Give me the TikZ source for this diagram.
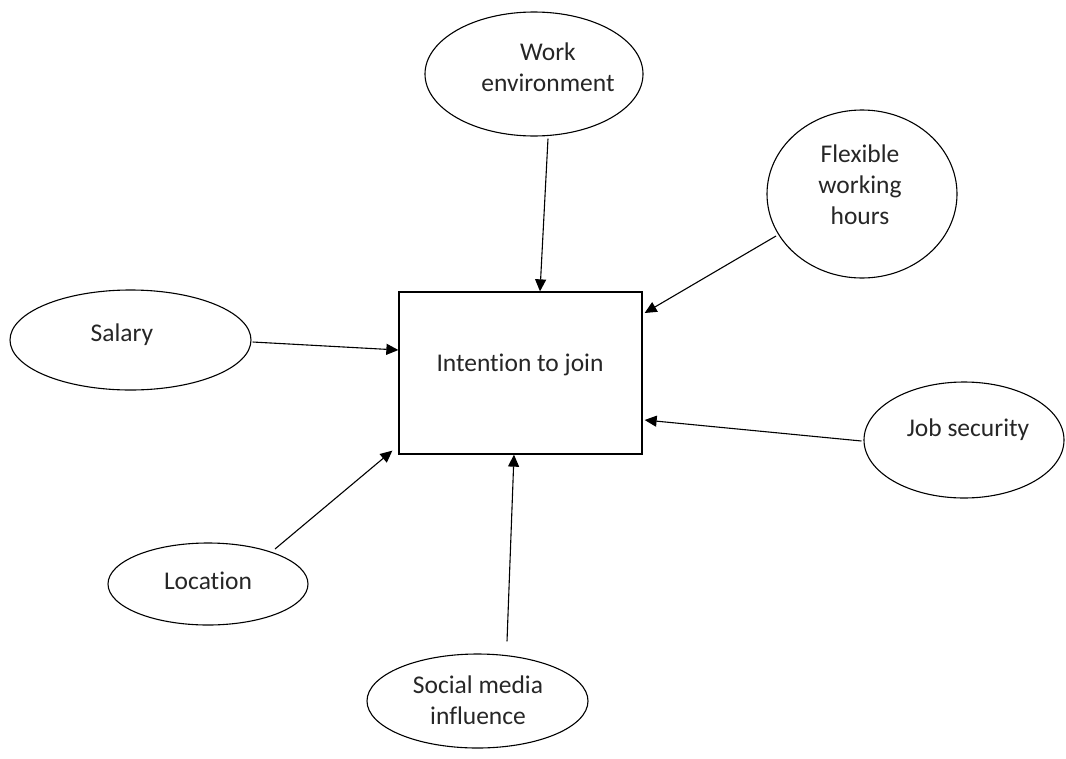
\documentclass[tikz,border=0pt]{standalone}
\usepackage{fontspec}
\setmainfont[Ligatures={NoCommon}]{Carlito}
\usetikzlibrary{shapes.geometric,arrows.meta}
\begin{document}
\begin{tikzpicture}[x=1pt,y=-1pt,
  oval/.style={draw,ellipse,line width=1.1pt,inner sep=0pt},
  lbl/.style={align=center,font=\fontsize{25.5}{31}\selectfont,text=black!85},
  arr/.style={-{Triangle[length=12pt,width=11pt]},line width=1.1pt}]
\useasboundingbox (0,0) rectangle (1066,758);
\node[draw,line width=1.3pt,minimum width=243pt,minimum height=162pt,inner sep=0pt] (box) at (520.5,373) {};
\node[lbl] (tbox) at (520,365) {Intention to join};
\node[oval,minimum width=218pt,minimum height=124pt] (we) at (534,74) {};
\node[lbl] (twe) at (548,67) {Work\\environment};
\node[oval,minimum width=190pt,minimum height=168pt] (fw) at (862,194) {};
\node[lbl] (tfw) at (860,185) {Flexible\\working\\hours};
\node[oval,minimum width=241pt,minimum height=100pt] (sal) at (130.5,340) {};
\node[lbl] (tsal) at (122,335) {Salary};
\node[oval,minimum width=200pt,minimum height=116pt] (job) at (964,440) {};
\node[lbl] (tjob) at (968,430) {Job security};
\node[oval,minimum width=200pt,minimum height=82pt] (loc) at (208,584) {};
\node[lbl] (tloc) at (208,581) {Location};
\node[oval,minimum width=221pt,minimum height=94pt] (soc) at (477.5,701) {};
\node[lbl] (tsoc) at (478,700) {Social media\\influence};
\draw[arr] ([shift={(14,2)}]we.south) -- ([xshift=19.5pt]box.north);
\draw[arr] ([shift={(-86,42)}]fw.center) -- ([shift={(2,-60)}]box.east);
\draw[arr] ([shift={(1,2)}]sal.east) -- ([shift={(0,-23)}]box.west);
\draw[arr] ([shift={(-2,1)}]job.west) -- ([shift={(2,47)}]box.east);
\draw[arr] ([shift={(67,-35)}]loc.center) -- ([shift={(-6,-4)}]box.south west);
\draw[arr] ([shift={(29.5,-12)}]soc.north) -- ([shift={(-6.5,0)}]box.south);
\end{tikzpicture}
\end{document}
